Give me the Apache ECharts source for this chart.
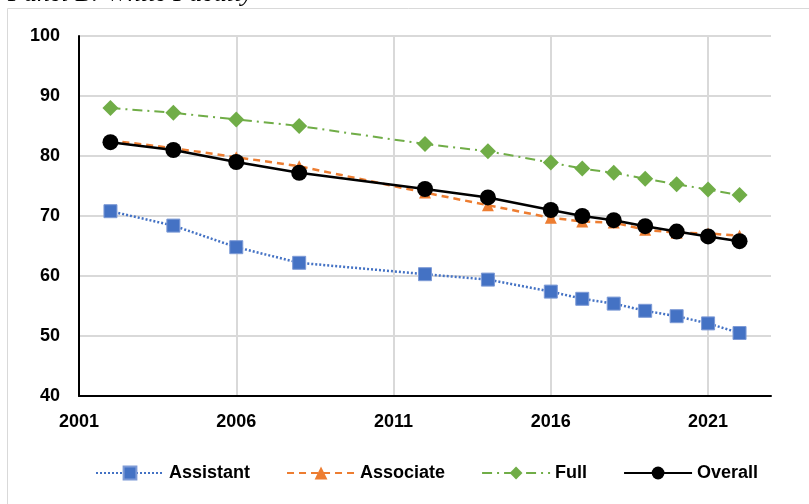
<!DOCTYPE html>
<html>
<head>
<meta charset="utf-8">
<script src="https://cdn.jsdelivr.net/npm/echarts@6/dist/echarts.min.js"></script>
<style>
  html, body { margin: 0; padding: 0; background: #fff; }
  #chart { width: 809px; height: 504px; }
</style>
</head>
<body>
<div id="chart"></div>
<script>
const years = [2002, 2004, 2006, 2008, 2012, 2014, 2016, 2017, 2018, 2019, 2020, 2021, 2022];
const assistant = [70.8, 68.4, 64.8, 62.2, 60.3, 59.4, 57.4, 56.2, 55.4, 54.2, 53.3, 52.1, 50.5];
const associate = [82.6, 81.3, 79.8, 78.3, 73.9, 71.8, 69.7, 69.1, 68.9, 67.7, 67.2, 67.1, 66.7];
const full = [88.0, 87.2, 86.1, 85.0, 82.0, 80.8, 78.9, 77.9, 77.2, 76.2, 75.3, 74.4, 73.5];
const overall = [82.3, 81.0, 79.0, 77.2, 74.5, 73.1, 71.0, 70.0, 69.3, 68.3, 67.4, 66.6, 65.8];
const xTicks = [2001, 2006, 2011, 2016, 2021];

const pairs = (vals) => years.map((y, i) => [y, vals[i]]);

const font = "'Liberation Sans', Arial, sans-serif";

const chart = echarts.init(document.getElementById("chart"));
chart.setOption({
  animation: false,
  backgroundColor: "#fff",
  graphic: [
    {
      type: "rect",
      z: -10,
      shape: { x: 7.5, y: 8.5, width: 900, height: 600 },
      style: { fill: "none", stroke: "#d9d9d9", lineWidth: 1 },
    },
    {
      type: "text",
      x: 8,
      y: -19,
      style: {
        text: "Panel B: White Faculty",
        font: "italic 26px 'Liberation Serif', 'Times New Roman', serif",
        fill: "#000",
        verticalAlign: "top",
      },
    },
  ],
  grid: { left: 79, right: 38, top: 36, bottom: 108 },
  xAxis: {
    type: "value",
    min: 2001,
    max: 2023,
    interval: 5,
    axisLine: { show: true, onZero: false, lineStyle: { color: "#000", width: 2 } },
    axisTick: { show: false },
    splitLine: { show: true, showMinLine: false, showMaxLine: false, lineStyle: { color: "#d9d9d9", width: 2 } },
    axisLabel: {
      margin: 17,
      color: "#000",
      fontWeight: "bold",
      fontSize: 18,
      fontFamily: font,
      showMaxLabel: false,
      formatter: (v) => (xTicks.includes(v) ? String(v) : ""),
    },
  },
  yAxis: {
    type: "value",
    min: 40,
    max: 100,
    interval: 10,
    axisLine: { show: true, lineStyle: { color: "#000", width: 2 } },
    axisTick: { show: false },
    splitLine: { show: true, lineStyle: { color: "#d9d9d9", width: 2 } },
    axisLabel: {
      margin: 19,
      color: "#000",
      fontWeight: "bold",
      fontSize: 18,
      fontFamily: font,
    },
  },
  legend: {
    bottom: 17,
    left: 90,
    itemWidth: 68,
    itemHeight: 16,
    itemGap: 36,
    textStyle: { color: "#000", fontWeight: "bold", fontSize: 18, fontFamily: font },
    data: ["Assistant", "Associate", "Full", "Overall"],
  },
  series: [
    {
      name: "Assistant",
      type: "line",
      data: pairs(assistant),
      symbol: "rect",
      symbolSize: 13,
      color: "#4472C4",
      itemStyle: { color: "#4472C4", borderColor: "#7d9ad6", borderWidth: 1 },
      lineStyle: { color: "#4472C4", width: 2.5, type: [2, 2] },
    },
    {
      name: "Associate",
      type: "line",
      data: pairs(associate),
      symbol: "triangle",
      symbolSize: 12,
      color: "#ED7D31",
      itemStyle: { color: "#ED7D31" },
      lineStyle: { color: "#ED7D31", width: 2.5, type: [7, 5] },
    },
    {
      name: "Full",
      type: "line",
      data: pairs(full),
      symbol: "diamond",
      symbolSize: 16,
      color: "#70AD47",
      itemStyle: { color: "#70AD47" },
      lineStyle: { color: "#70AD47", width: 2, type: [10, 5, 2, 5] },
    },
    {
      name: "Overall",
      type: "line",
      data: pairs(overall),
      symbol: "circle",
      symbolSize: 16,
      color: "#000",
      itemStyle: { color: "#000" },
      lineStyle: { color: "#000", width: 2.5 },
    },
  ],
});
</script>
</body>
</html>
